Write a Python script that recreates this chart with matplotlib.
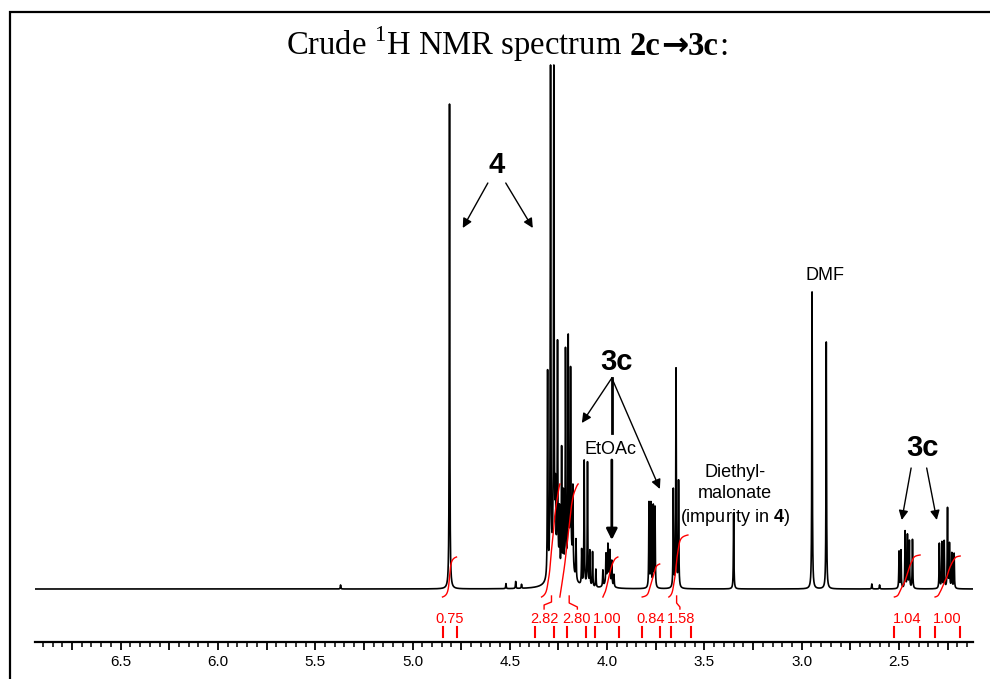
import numpy as np
import matplotlib
matplotlib.use("Agg")
import matplotlib.pyplot as plt
from matplotlib.patches import Rectangle
from matplotlib.ticker import MultipleLocator, FuncFormatter

plt.rcParams["font.family"] = ["Liberation Sans", "DejaVu Sans"]
plt.rcParams["mathtext.fontset"] = "custom"
plt.rcParams["mathtext.rm"] = "Liberation Serif"
plt.rcParams["mathtext.bf"] = "Liberation Serif:bold"
plt.rcParams["mathtext.sf"] = "Liberation Sans:bold"

# --------------------------------------------------
# Data (ppm, peak height above baseline)
# --------------------------------------------------

peak_ppm = [4.810,
            4.306, 4.291, 4.274, 4.266, 4.255, 4.245, 4.234, 4.225, 4.214,
            4.200, 4.188, 4.176, 4.160, 4.131, 4.118, 4.101, 4.089, 4.075, 4.058,
            4.022, 4.006, 3.996, 3.986, 3.976, 3.965,
            3.785, 3.775, 3.763, 3.754,
            3.660, 3.646, 3.633,
            3.350,
            2.947, 2.874,
            2.500, 2.490, 2.469, 2.457, 2.447, 2.431,
            2.293, 2.280, 2.268, 2.251, 2.241, 2.229, 2.217,
            5.370, 4.520, 4.470, 4.440, 2.640, 2.600]
peak_height = [485,
               205, 524, 524, 60, 220, 60, 125, 80, 222,
               222, 180, 80, 40, 35, 125, 124, 35, 35, 18,
               16, 28, 32, 30, 24, 12,
               85, 84, 81, 80,
               98, 219, 106,
               76,
               297, 247,
               37, 38, 57, 53, 47, 49,
               45, 46, 47, 80, 44, 35, 35,
               4, 5, 7, 4, 5, 4]

hump_ppm = [4.27, 4.19, 3.995]
hump_height = [30, 35, 12]
hump_width = [0.02, 0.015, 0.012]

# integrals: curve range (ppm), rise, label, tick range (ppm)
int_start = [4.846, 4.337, 4.243, 4.022, 3.820, 3.683, 2.524, 2.315]
int_end = [4.774, 4.243, 4.149, 3.945, 3.730, 3.585, 2.392, 2.186]
int_rise = [40, 113, 113, 40, 33, 62, 42, 41]
label_text = ["0.75", "2.82", "2.80", "1.00", "0.84", "1.58", "1.04", "1.00"]
label_lo = [4.846, 4.371, 4.208, 4.063, 3.820, 3.672, 2.524, 2.315]
label_hi = [4.774, 4.274, 4.109, 3.940, 3.729, 3.571, 2.392, 2.186]

# --------------------------------------------------
# Spectrum
# --------------------------------------------------

x = np.linspace(6.94, 2.12, 30000)


def build(width):
    y = np.zeros_like(x)
    for p, h in zip(peak_ppm, peak_height):
        y += h / (1 + ((x - p) / width) ** 2)
    for p, h, w in zip(hump_ppm, hump_height, hump_width):
        y += h / (1 + ((x - p) / w) ** 2)
    return y


spec = np.minimum(build(0.0015), 524)
smooth = build(0.006)

fig = plt.figure(figsize=(9.9, 6.79), dpi=100)
ax = fig.add_axes([35 / 990, 37 / 679, 938 / 990, 630 / 679])

ax.plot(x, spec, color="black", lw=1.2)

for a, b, r in zip(int_start, int_end, int_rise):
    m = (x <= a) & (x >= b)
    c = np.cumsum(smooth[m])
    c = (c - c[0]) / (c[-1] - c[0])
    ax.plot(x[m], -8 + r * c, color="red", lw=1)

for t, lo, hi in zip(label_text, label_lo, label_hi):
    ax.text((lo + hi) / 2, -30, t, color="red", fontsize=10.5,
            ha="center", va="center")
    ax.plot([lo, lo], [-38, -48], color="red", lw=1.5)
    ax.plot([hi, hi], [-38, -48], color="red", lw=1.5)

# small red brackets
ax.plot([4.324, 4.324, 4.286, 4.286], [-20, -16, -13, -7], color="red", lw=1)
ax.plot([4.195, 4.195, 4.153, 4.153], [-7, -14, -18, -20], color="red", lw=1)
ax.plot([3.643, 3.643, 3.626, 3.626], [-7, -14, -18, -20], color="red", lw=1)

# --------------------------------------------------
# Annotations
# --------------------------------------------------

arrow = dict(arrowstyle="-|>", color="black", lw=1, mutation_scale=14,
             shrinkA=0, shrinkB=0)

ax.text(4.567, 424, "4", fontsize=21, weight="bold", ha="center", va="center")
ax.annotate("", xy=(4.742, 361), xytext=(4.613, 406), arrowprops=arrow)
ax.annotate("", xy=(4.382, 361), xytext=(4.521, 406), arrowprops=arrow)

ax.text(3.950, 227, "3c", fontsize=21, weight="bold", ha="center", va="center")
ax.annotate("", xy=(4.130, 166), xytext=(3.976, 211), arrowprops=arrow)
ax.annotate("", xy=(3.729, 100), xytext=(3.976, 211), arrowprops=arrow)
ax.plot([3.976, 3.976], [211, 156], color="black", lw=2)
ax.text(3.981, 139, "EtOAc", fontsize=13, ha="center", va="center")
ax.annotate("", xy=(3.976, 49), xytext=(3.976, 129),
            arrowprops=dict(arrowstyle="-|>", color="black", lw=2,
                            mutation_scale=16, shrinkA=0, shrinkB=0))

ax.text(3.343, 93, "Diethyl-\nmalonate\n(impurity in $\\mathsf{4}$)",
        fontsize=13, ha="center", va="center", linespacing=1.35)
ax.text(2.880, 313, "DMF", fontsize=13, ha="center", va="center")

ax.text(2.382, 141, "3c", fontsize=21, weight="bold", ha="center", va="center")
ax.annotate("", xy=(2.486, 69), xytext=(2.438, 121), arrowprops=arrow)
ax.annotate("", xy=(2.306, 69), xytext=(2.358, 121), arrowprops=arrow)

# --------------------------------------------------
# Axes style
# --------------------------------------------------

ax.set_xlim(6.94, 2.12)
ax.set_ylim(-53, 577)
for s in ["left", "right", "top"]:
    ax.spines[s].set_visible(False)
ax.spines["bottom"].set_linewidth(1.6)
ax.set_yticks([])
ax.xaxis.set_major_locator(MultipleLocator(0.25))
ax.xaxis.set_minor_locator(MultipleLocator(0.05))
ax.xaxis.set_major_formatter(FuncFormatter(
    lambda v, pos: "%.1f" % v if abs(v * 2 - round(v * 2)) < 1e-6 else ""))
ax.tick_params(axis="x", which="major", length=6, width=1.3, labelsize=11,
               pad=3)
ax.tick_params(axis="x", which="minor", length=3.5, width=1.1)
ax.patch.set_visible(False)

# --------------------------------------------------
# Title, built from pieces on one baseline
# --------------------------------------------------

pieces = [("Crude $^{1}$H NMR spectrum", "Liberation Serif", "normal", 8),
          ("2c", "Liberation Serif", "bold", 0),
          ("\u2192", "DejaVu Sans", "bold", 0),
          ("3c", "Liberation Serif", "bold", 0),
          (":", "Liberation Serif", "normal", 0)]
renderer = fig.canvas.get_renderer()
title_texts = []
widths = []
for s, fam, w, gap in pieces:
    t = fig.text(0, 1 - 55 / 679, s, family=fam, weight=w, fontsize=23.5,
                 ha="left", va="baseline")
    title_texts.append(t)
    widths.append(t.get_window_extent(renderer).width + gap)
left = 507 - sum(widths) / 2
for t, wd in zip(title_texts, widths):
    t.set_x(left / 990)
    left += wd

fig.add_artist(Rectangle((10 / 990, -0.1), 1.2, 1.1 - 12 / 679,
                         transform=fig.transFigure, fill=False, lw=1.6,
                         edgecolor="black"))

fig.savefig("out.png", dpi=100)
